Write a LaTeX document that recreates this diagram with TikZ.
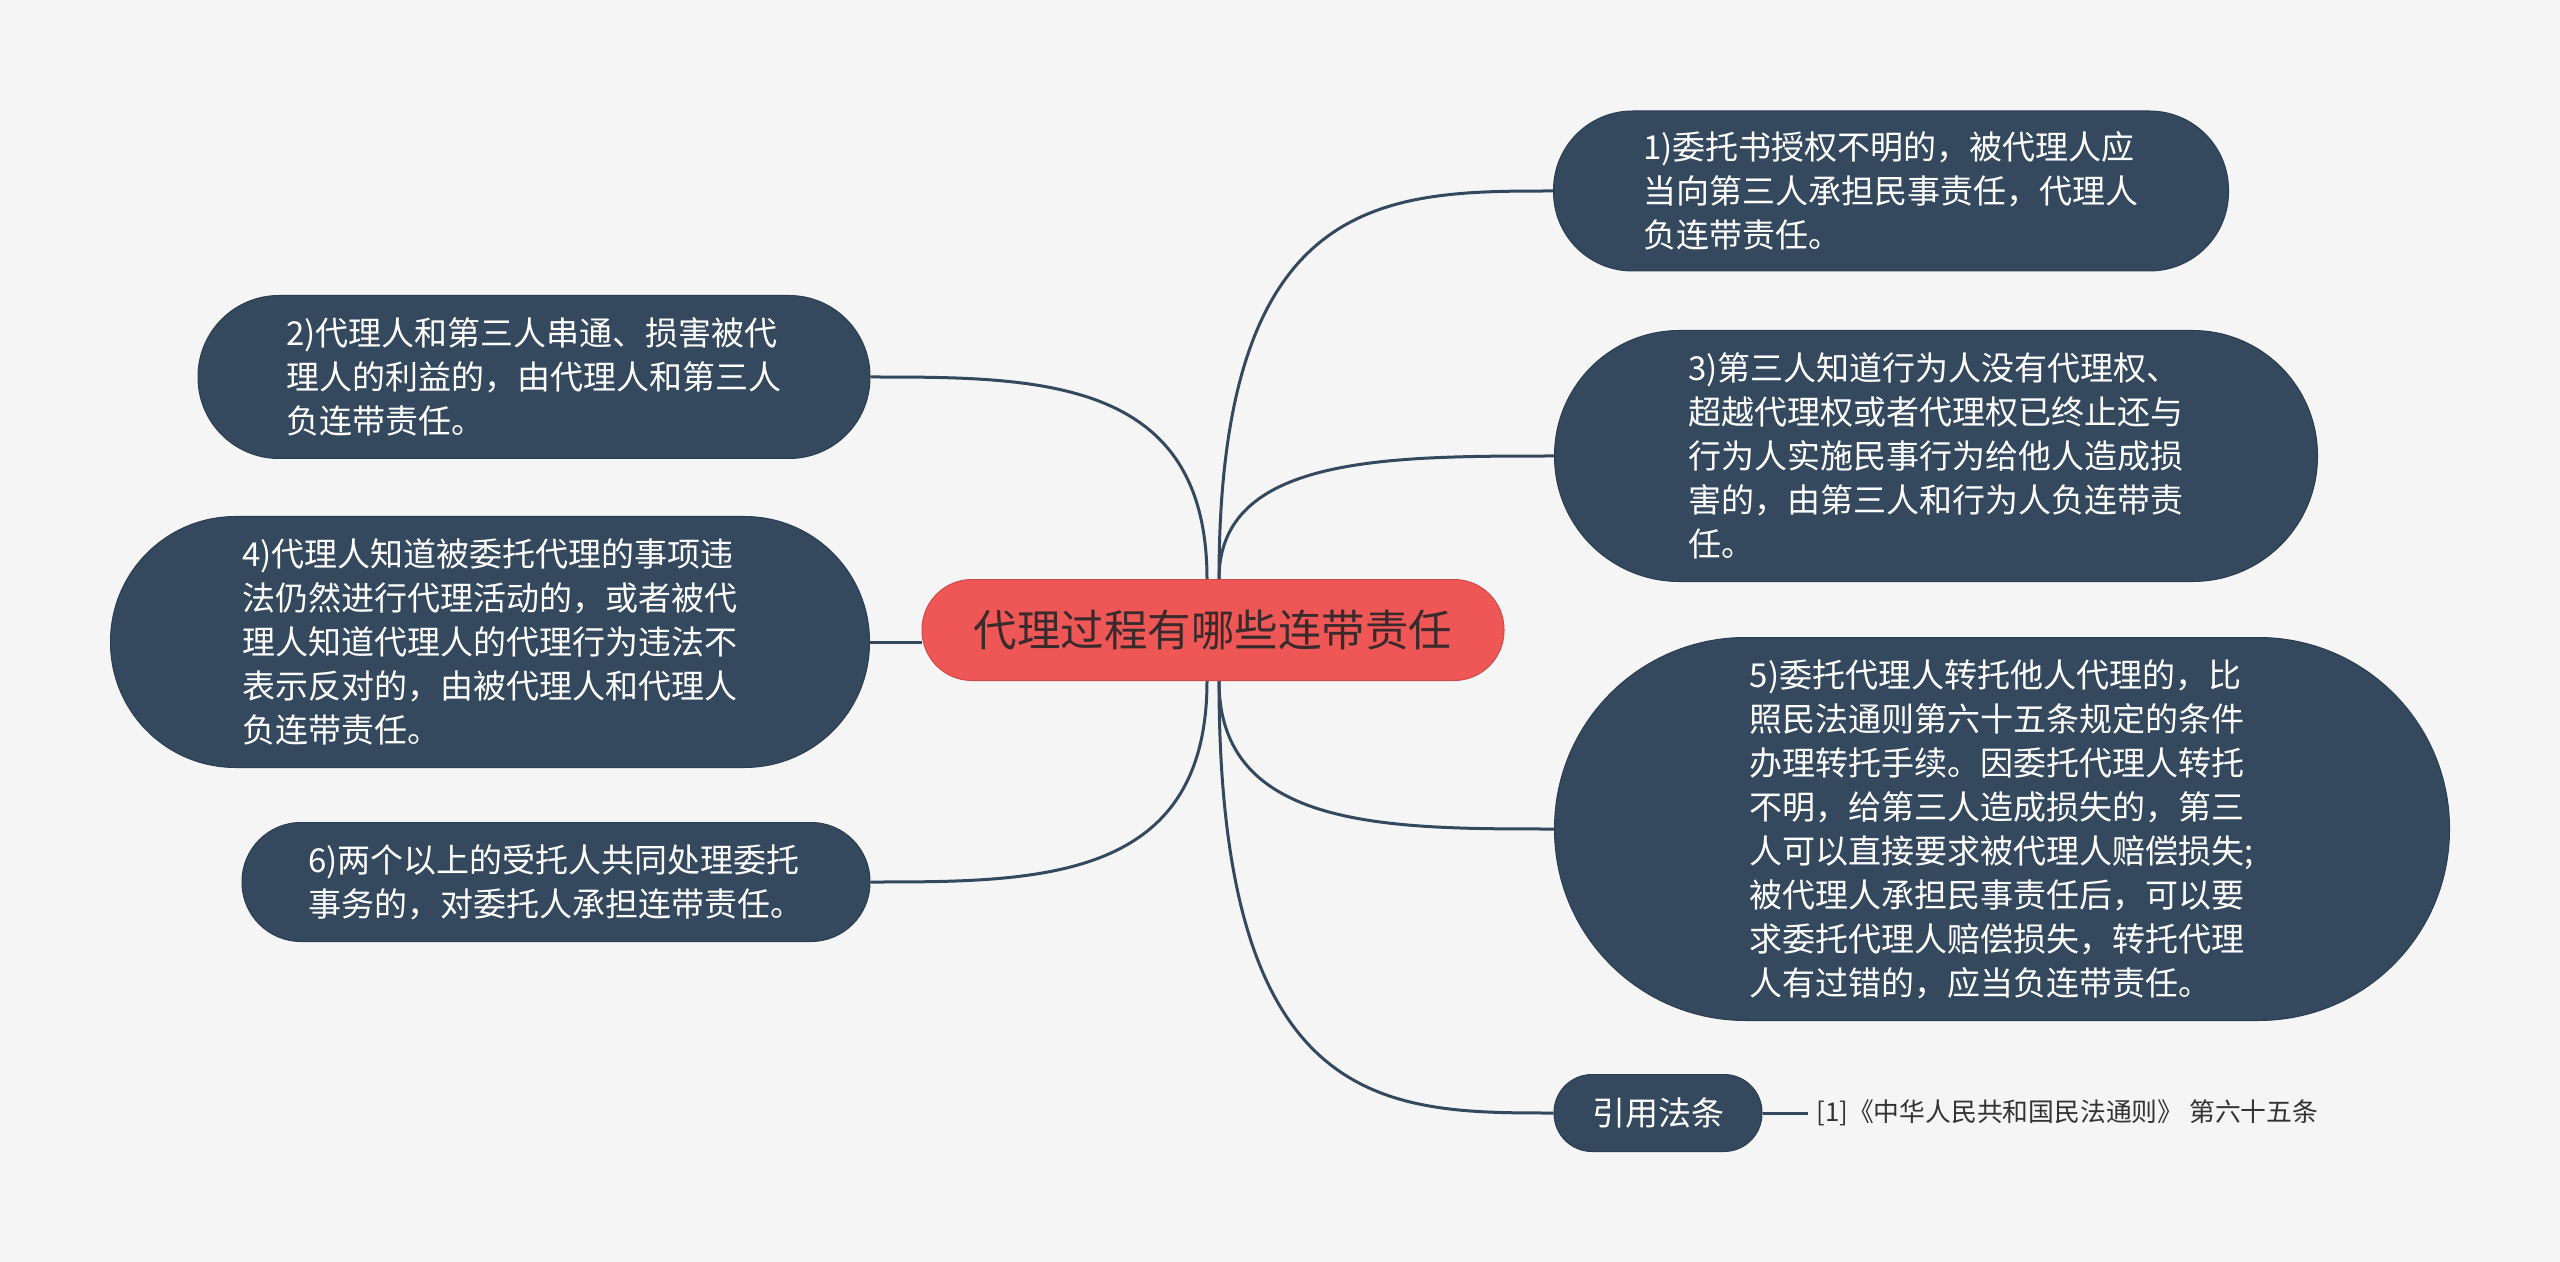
\documentclass[tikz,border=0pt]{standalone}
\usepackage{fontspec}
\setmainfont{Noto Sans CJK SC}
\usetikzlibrary{calc}
\definecolor{bgc}{HTML}{F5F5F5}
\definecolor{topicfill}{HTML}{34495E}
\definecolor{topicdraw}{HTML}{2B3D50}
\definecolor{linec}{HTML}{34495E}
\definecolor{centralfill}{HTML}{EF5757}
\definecolor{centraltext}{HTML}{3A2A2C}
\definecolor{reftext}{HTML}{333333}
\pgfdeclarelayer{back}
\pgfdeclarelayer{bg}
\pgfsetlayers{back,bg,main}
\begin{document}
\begin{tikzpicture}[x=0.5pt,y=-0.5pt,
  topic/.style={fill=topicfill, draw=topicdraw, line width=0.5pt, text=white, align=left, inner sep=0pt,
    font=\fontsize{16.5pt}{22pt}\selectfont},
  central/.style={fill=centralfill, draw=centralfill!85!black, line width=0.5pt, text=centraltext, inner sep=0pt,
    font=\fontsize{21.75pt}{26pt}\selectfont},
  conn/.style={draw=linec, line width=1.5pt},
  reflabel/.style={text=reftext, inner xsep=4pt, inner ysep=0pt, anchor=west, font=\fontsize{12.9pt}{15pt}\selectfont}]
\begin{pgfonlayer}{back}
\fill[bgc] (0,0) rectangle (2560,1262);
\end{pgfonlayer}
\useasboundingbox (0,0) rectangle (2560,1262);

\node[central, minimum width=291pt, minimum height=50.5pt, rounded corners=25pt] (c) at (1213,630) {代理过程有哪些连带责任};

\node[topic, minimum width=337.5pt, minimum height=80pt, rounded corners=39.5pt] (n1) at (1891,191)
  {1)委托书授权不明的，被代理人应\\当向第三人承担民事责任，代理人\\负连带责任。};
\node[topic, minimum width=336pt, minimum height=81.5pt, rounded corners=40.5pt] (n2) at (534,377)
  {2)代理人和第三人串通、损害被代\\理人的利益的，由代理人和第三人\\负连带责任。};
\node[topic, minimum width=381.5pt, minimum height=125.5pt, rounded corners=62.5pt] (n3) at (1936,456)
  {3)第三人知道行为人没有代理权、\\超越代理权或者代理权已终止还与\\行为人实施民事行为给他人造成损\\害的，由第三人和行为人负连带责\\任。};
\node[topic, minimum width=379.5pt, minimum height=125.5pt, rounded corners=62.5pt] (n4) at (490,642)
  {4)代理人知道被委托代理的事项违\\法仍然进行代理活动的，或者被代\\理人知道代理人的代理行为违法不\\表示反对的，由被代理人和代理人\\负连带责任。};
\node[topic, minimum width=447.5pt, minimum height=191.5pt, rounded corners=95.5pt] (n5) at (2002,829)
  {5)委托代理人转托他人代理的，比\\照民法通则第六十五条规定的条件\\办理转托手续。因委托代理人转托\\不明，给第三人造成损失的，第三\\人可以直接要求被代理人赔偿损失;\\被代理人承担民事责任后，可以要\\求委托代理人赔偿损失，转托代理\\人有过错的，应当负连带责任。};
\node[topic, minimum width=314pt, minimum height=59.5pt, rounded corners=29.5pt] (n6) at (556,882)
  {6)两个以上的受托人共同处理委托\\事务的，对委托人承担连带责任。};
\node[topic, minimum width=104pt, minimum height=38.5pt, rounded corners=19pt] (n7) at (1658,1113)
  {引用法条};
\node[reflabel] (r1) at (1808,1113) {[1]《中华人民共和国民法通则》 第六十五条};

\begin{pgfonlayer}{bg}
\coordinate (tl) at ($(c.north)+(-6,0)$);
\coordinate (tr) at ($(c.north)+(6,0)$);
\coordinate (bl) at ($(c.south)+(-6,0)$);
\coordinate (br) at ($(c.south)+(6,0)$);
\draw[conn] (tr) .. controls (tr |- n1.west) and ($(tr |- n1.west)!0.5!(n1.west)$) .. (n1.west);
\draw[conn] (tr) .. controls (tr |- n3.west) and ($(tr |- n3.west)!0.5!(n3.west)$) .. (n3.west);
\draw[conn] (br) .. controls (br |- n5.west) and ($(br |- n5.west)!0.5!(n5.west)$) .. (n5.west);
\draw[conn] (br) .. controls (br |- n7.west) and ($(br |- n7.west)!0.5!(n7.west)$) .. (n7.west);
\draw[conn] (tl) .. controls (tl |- n2.east) and ($(tl |- n2.east)!0.5!(n2.east)$) .. (n2.east);
\draw[conn] (bl) .. controls (bl |- n6.east) and ($(bl |- n6.east)!0.5!(n6.east)$) .. (n6.east);
\draw[conn] (n4.east) -- (n4.east -| c.west);
\draw[conn] (n7.east) -- (r1.west);
\end{pgfonlayer}
\end{tikzpicture}
\end{document}
